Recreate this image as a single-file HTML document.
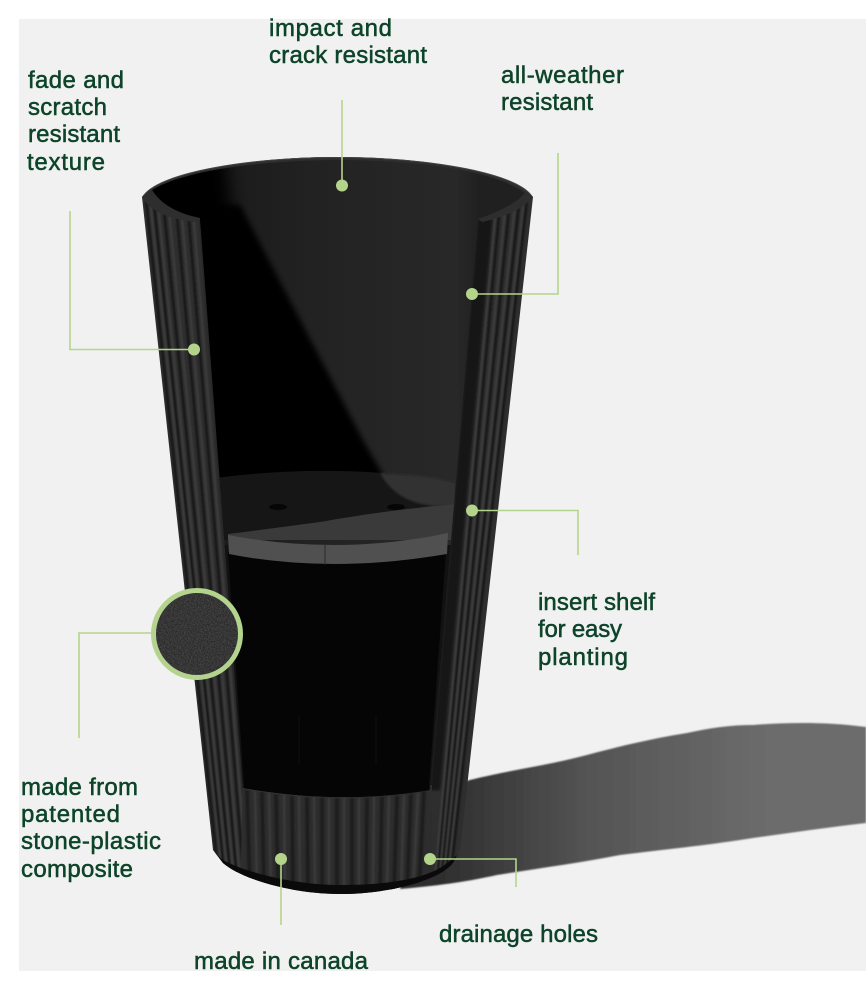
<!DOCTYPE html>
<html><head><meta charset="utf-8"><style>
html,body{margin:0;padding:0;background:#fff;width:866px;height:990px;overflow:hidden}
svg{display:block}
text{font-family:"Liberation Sans",sans-serif;font-size:24px;fill:#0d4429;stroke:#0d4429;stroke-width:.5}
.c{fill:none;stroke:#b4d48c;stroke-width:1.6}
.d{stroke:#171717;stroke-width:2.6;fill:none}
.l{stroke:#3c3c3c;stroke-width:2.2;fill:none}
</style></head><body>
<svg width="866" height="990" viewBox="0 0 866 990" xmlns="http://www.w3.org/2000/svg">
<defs>
<linearGradient id="sh" gradientUnits="userSpaceOnUse" x1="440" y1="0" x2="770" y2="0"><stop offset="0" stop-color="#2e2e2e"/><stop offset=".45" stop-color="#545454"/><stop offset="1" stop-color="#6c6c6c"/></linearGradient>
<linearGradient id="inner" gradientUnits="userSpaceOnUse" x1="240" y1="0" x2="480" y2="0"><stop offset="0" stop-color="#1c1c1c"/><stop offset=".3" stop-color="#222"/><stop offset=".9" stop-color="#282828"/><stop offset="1" stop-color="#202020"/></linearGradient>
<filter id="b8" x="-30%" y="-30%" width="160%" height="160%"><feGaussianBlur stdDeviation="8"/></filter>
<filter id="b3" x="-10%" y="-10%" width="120%" height="120%"><feGaussianBlur stdDeviation="3"/></filter>
<filter id="b1" x="-5%" y="-5%" width="110%" height="110%"><feGaussianBlur stdDeviation="1"/></filter>
<filter id="b06" x="-5%" y="-5%" width="110%" height="110%"><feGaussianBlur stdDeviation=".7"/></filter>
<filter id="noise" x="0" y="0" width="100%" height="100%"><feTurbulence type="fractalNoise" baseFrequency=".7" numOctaves="2" seed="4"/><feColorMatrix values="0 0 0 0 .55  0 0 0 0 .55  0 0 0 0 .55  .9 .9 0 0 -.62"/></filter>
<clipPath id="int"><path d="M152 190C190 167 280 160 338 160C400 160 490 167 525 193C515 205 495 213 478 219L430 790Q340 805 243 788L200 218C185 215 163 208 152 190Z"/></clipPath>
<clipPath id="pot"><path d="M142 197C160 172 250 157 338 157C425 157 515 172 533 197L460 850L453 863C440 880 390 894 340 894C290 894 240 878 223 863L213 850Z"/></clipPath>
<clipPath id="bc"><circle cx="197" cy="634" r="43"/></clipPath>
</defs>

<rect x="19" y="19" width="847" height="952" fill="#f1f1f1"/>

<!-- cast shadow -->
<path filter="url(#b06)" fill="url(#sh)" d="M440 790L470 780C510 770 550 765 587 755C625 745 655 738 687 733C710 728 730 725 753 725C790 722 830 722 866 727V823C830 827 790 833 753 838C710 845 660 850 620 855C580 863 540 868 497 875C470 881 445 885 400 889Z"/>

<!-- body -->
<path fill="#2e2e2e" d="M142 197C160 172 250 157 338 157C425 157 515 172 533 197L460 850L453 863C440 880 390 894 340 894C290 894 240 878 223 863L213 850Z"/>

<g clip-path="url(#pot)">
<g filter="url(#b06)">
<!-- left ribs -->
<line class="d" x1="145" y1="190" x2="220" y2="890"/>
<line class="l" x1="149" y1="190" x2="224" y2="890"/>
<line class="d" x1="153" y1="195" x2="226" y2="890"/>
<line class="l" x1="157" y1="195" x2="229" y2="890"/>
<line class="d" x1="163" y1="200" x2="232" y2="890"/>
<line class="l" x1="168" y1="200" x2="235" y2="890"/>
<line class="d" x1="176" y1="205" x2="238" y2="890"/>
<line class="l" x1="181" y1="205" x2="241" y2="890"/>
<line class="d" x1="188" y1="210" x2="245" y2="890"/>
<line class="l" x1="193" y1="210" x2="248" y2="890"/>
<!-- right ribs -->
<line class="d" x1="528" y1="190" x2="449" y2="890"/>
<line class="l" x1="525" y1="190" x2="446" y2="890"/>
<line class="d" x1="520" y1="195" x2="444" y2="890"/>
<line class="l" x1="516" y1="195" x2="442" y2="890"/>
<line class="d" x1="510" y1="200" x2="440" y2="890"/>
<line class="l" x1="506" y1="200" x2="438" y2="890"/>
<line class="d" x1="500" y1="205" x2="436" y2="890"/>
<line class="l" x1="496" y1="205" x2="434" y2="890"/>
</g>
<path fill="#171717" filter="url(#b1)" d="M478 218L493 212L440 790L430 790Z"/>
<path fill="#1a1a1a" filter="url(#b1)" d="M200 218L208 222L251 790L243 790Z"/>
<!-- bottom band -->
<path fill="#2d2d2d" d="M243 788Q340 805 432 786L432 890H240Z"/>
<g filter="url(#b06)">
<g stroke="#1b1b1b" stroke-width="3.6" fill="none">
<path d="M247 790L250 890M262 792L264 890M276 794L278 890M292 796L293 890M307 797L308 890M322 798L322 890M337 798L337 890M352 798L352 890M367 798L366 890M382 797L380 890M397 796L394 890M411 794L407 890M424 791L419 890"/>
</g>
<g stroke="#3a3a3a" stroke-width="2.4" fill="none">
<path d="M255 791L257 890M269 793L271 890M284 795L285 890M299 796L300 890M314 797L315 890M329 798L329 890M344 798L344 890M359 798L359 890M374 797L373 890M389 796L387 890M404 795L401 890M418 793L413 890"/>
</g>
</g>
<path d="M243 788Q340 806 432 786" fill="none" stroke="#3a3a3a" stroke-width="1.5"/>
<!-- base lip -->
<path fill="#0a0a0a" d="M205 845L223 860C240 870 290 885 340 885C390 885 430 878 447 863L470 845V900H205Z"/>
</g>

<!-- interior -->
<path fill="url(#inner)" d="M152 190C190 167 280 160 338 160C400 160 490 167 525 193C515 205 495 213 478 219L430 790Q340 805 243 788L200 218C185 215 163 208 152 190Z"/>
<g clip-path="url(#int)">
<path fill="#060606" filter="url(#b8)" d="M130 130H222L236 240H130Z"/>
<path fill="#050505" filter="url(#b3)" d="M130 205H240L363 440L392 490H150Z"/>
<!-- shelf top -->
<path fill="#161616" d="M215 478Q340 462 456 482L452 540H215Z"/>
<path fill="#303030" filter="url(#b1)" d="M380 473Q420 474 456 482V506L433 506C410 503 392 495 380 473Z"/>
<path fill="#3a3a3a" d="M228 534C260 530 290 526 320 522C360 515 400 509 456 504V540H228Z"/>
<ellipse cx="278" cy="507" rx="9" ry="3" fill="#060606"/>
<ellipse cx="396" cy="507" rx="9" ry="3" fill="#060606"/>
<!-- lower interior -->
<path fill="#121212" d="M215 545H456L430 800H243Z"/>
<path fill="#050505" d="M228 552H446L428 800H245Z"/>
<path stroke="#0e0e0e" stroke-width="1" fill="none" d="M299 715V765M376 715V765"/>
<!-- shelf edge -->
<path fill="#505050" d="M228 535L229 554Q330 574 447 554L448 533Q340 556 228 535Z"/>
<line x1="325" y1="545" x2="325" y2="565" stroke="#2a2a2a" stroke-width="1"/>
</g>
<!-- rim -->
<path fill="#2e2e2e" d="M142 197C160 172 250 157 338 157C425 157 515 172 533 197L525 193C490 167 400 160 338 160C280 160 190 167 152 190C163 208 185 215 200 218L197 222C172 220 150 212 142 197Z"/>
<path fill="#2e2e2e" d="M533 197L525 193C515 205 495 213 478 219L482 222C505 217 525 208 533 197Z"/>
<path fill="none" stroke="#444" stroke-width="1" d="M144 195C162 172 250 157.500 338 157.500C425 157.500 513 172 531 195"/>

<!-- connectors -->
<path class="c" d="M342 100V185"/>
<path class="c" d="M472 294H558V153"/>
<path class="c" d="M194 349.500H70V211"/>
<path class="c" d="M472 510.500H578V555"/>
<path class="c" d="M152 633H79V738"/>
<path class="c" d="M281 859V925"/>
<path class="c" d="M430 859H516V887"/>
<g fill="#b4d48c">
<circle cx="342" cy="185.500" r="6"/>
<circle cx="472" cy="294" r="6"/>
<circle cx="194" cy="349.500" r="6"/>
<circle cx="472" cy="510.500" r="6"/>
<circle cx="281" cy="859" r="6"/>
<circle cx="430" cy="859" r="6"/>
</g>

<!-- texture callout -->
<circle cx="197" cy="634" r="43.500" fill="#2a2a2a" stroke="#b4d48c" stroke-width="5"/>
<g clip-path="url(#bc)"><rect x="150" y="588" width="94" height="92" filter="url(#noise)" opacity=".3"/></g>

<!-- labels -->
<text x="28" y="88" textLength="96">fade and</text>
<text x="28" y="115" textLength="79">scratch</text>
<text x="28" y="142" textLength="92">resistant</text>
<text x="27" y="170" textLength="78">texture</text>
<text x="269" y="36" textLength="123">impact and</text>
<text x="269" y="63" textLength="158">crack resistant</text>
<text x="501" y="83" textLength="123">all-weather</text>
<text x="501" y="110" textLength="92">resistant</text>
<text x="538" y="610" textLength="117">insert shelf</text>
<text x="538" y="637" textLength="84">for easy</text>
<text x="538" y="665" textLength="90">planting</text>
<text x="21" y="795" textLength="117">made from</text>
<text x="21" y="822" textLength="99">patented</text>
<text x="21" y="849" textLength="140">stone-plastic</text>
<text x="21" y="877" textLength="112">composite</text>
<text x="439" y="942" textLength="159">drainage holes</text>
<text x="194" y="969" textLength="174">made in canada</text>
</svg>
</body></html>
